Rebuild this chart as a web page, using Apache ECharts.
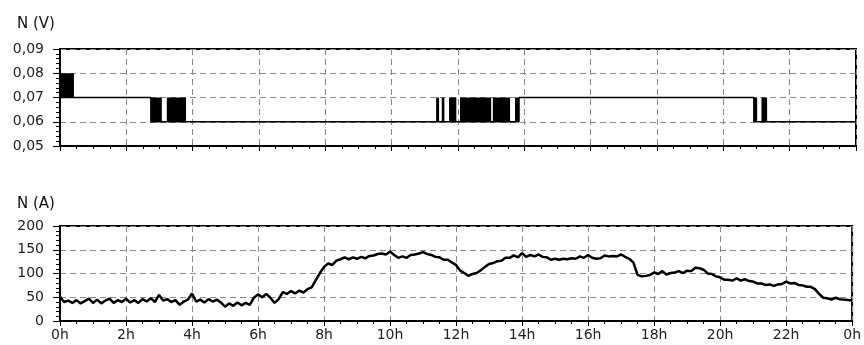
<!DOCTYPE html>
<html>
<head>
<meta charset="utf-8">
<title>N (V) / N (A)</title>
<script src="https://cdn.jsdelivr.net/npm/echarts@6/dist/echarts.min.js"></script>
<style>
  html, body { margin: 0; padding: 0; background: #fff; }
  #chart { width: 864px; height: 345px; }
</style>
</head>
<body>
<div id="chart"></div>
<script>
// Hour ticks shared by both panels (24h wraps to "0h")
const hourTicks = [0, 2, 4, 6, 8, 10, 12, 14, 16, 18, 20, 22, 24];

// Voltage level: held value, [hour, value] change points
const voltageSteps = [
  [0, 0.07], [2.74, 0.06], [13.84, 0.07], [20.92, 0.06], [24, 0.06]
];

// Intervals where the voltage flickers between two levels: [startHour, endHour, low, high]
const voltageFlicker = [
  [0.00, 0.42, 0.07, 0.08],
  [2.74, 3.07, 0.06, 0.07],
  [3.22, 3.80, 0.06, 0.07],
  [11.34, 11.43, 0.06, 0.07],
  [11.51, 11.59, 0.06, 0.07],
  [11.73, 11.95, 0.06, 0.07],
  [12.06, 13.00, 0.06, 0.07],
  [13.05, 13.57, 0.06, 0.07],
  [13.72, 13.84, 0.06, 0.07],
  [20.92, 21.02, 0.06, 0.07],
  [21.15, 21.32, 0.06, 0.07]
];

// Current, one reading every 7.5 minutes (8 per hour), from 0h to 24h
const currentStepHours = 0.125;
const currentValues = [
  51, 40, 43, 38, 44, 37, 42, 47,
  38, 45, 37, 43, 47, 38, 44, 40,
  47, 39, 44, 38, 46, 41, 48, 40,
  55, 43, 46, 40, 44, 34, 41, 45,
  58, 41, 45, 39, 46, 41, 45, 39,
  30, 37, 32, 39, 33, 38, 34, 49,
  56, 50, 57, 49, 38, 46, 61, 57,
  63, 58, 64, 60, 67, 71, 86, 101,
  114, 121, 118, 127, 130, 134, 130, 134,
  131, 135, 132, 137, 138, 141, 142, 140,
  146, 139, 133, 136, 133, 139, 140, 142,
  145, 141, 139, 135, 134, 129, 129, 123,
  118, 106, 101, 95, 99, 101, 107, 114,
  120, 122, 126, 127, 133, 133, 138, 134,
  143, 135, 139, 136, 140, 135, 134, 129,
  131, 129, 131, 130, 132, 131, 136, 133,
  139, 133, 131, 132, 138, 136, 137, 136,
  140, 135, 131, 123, 97, 94, 95, 97,
  102, 99, 105, 98, 101, 102, 105, 101,
  106, 105, 112, 111, 108, 100, 99, 94,
  92, 87, 87, 85, 90, 85, 88, 84,
  83, 79, 79, 76, 77, 74, 77, 78,
  83, 79, 80, 76, 75, 72, 72, 67,
  57, 49, 48, 45, 49, 46, 45, 44,
  43
];

// Axis ranges
const voltageTicks = [0.05, 0.06, 0.07, 0.08, 0.09];
const currentTicks = [0, 50, 100, 150, 200];

const currentData = currentValues.map((v, i) => [i * currentStepHours, v]);

const labelFont = { fontFamily: 'DejaVu Sans', fontSize: 14, color: '#222' };
const titleFont = { fontFamily: 'DejaVu Sans', fontSize: 15, fontWeight: 'normal', color: '#111' };
const gridLine = { show: true, lineStyle: { color: '#8a8a8a', type: [6, 4], width: 1 } };

function xAxisFor(gridIndex, showLabels) {
  return {
    type: 'value', gridIndex,
    min: hourTicks[0], max: hourTicks[hourTicks.length - 1],
    interval: hourTicks[1] - hourTicks[0],
    axisLine: { show: true, onZero: false, lineStyle: { color: '#000', width: 2 } },
    axisTick: { show: true, length: 5, lineStyle: { color: '#000', width: 1 } },
    minorTick: { show: true, splitNumber: 4, length: 3, lineStyle: { color: '#000', width: 1 } },
    axisLabel: Object.assign({ show: showLabels, margin: 7, formatter: v => (v % 24) + 'h' }, labelFont),
    splitLine: gridLine
  };
}

function yAxisFor(gridIndex, ticks, fmt) {
  return {
    type: 'value', gridIndex,
    min: ticks[0], max: ticks[ticks.length - 1],
    interval: ticks[1] - ticks[0],
    axisLine: { show: true, onZero: false, lineStyle: { color: '#000', width: 2 } },
    axisTick: { show: true, length: 7, lineStyle: { color: '#000', width: 1 } },
    minorTick: { show: true, splitNumber: 5, length: 4, lineStyle: { color: '#000', width: 1 } },
    axisLabel: Object.assign({ margin: 16, formatter: fmt }, labelFont),
    splitLine: gridLine
  };
}

const chart = echarts.init(document.getElementById('chart'), null, { renderer: 'canvas' });

chart.setOption({
  animation: false,
  backgroundColor: '#fff',
  title: [
    { text: 'N (V)', left: 12, top: 12, textStyle: titleFont },
    { text: 'N (A)', left: 12, top: 192, textStyle: titleFont }
  ],
  grid: [
    { left: 60, right: 8, top: 49, height: 97, show: true, borderColor: '#000', borderWidth: 2, backgroundColor: 'transparent' },
    { left: 60, right: 8, top: 226, height: 95, show: true, borderColor: '#000', borderWidth: 2, backgroundColor: 'transparent' }
  ],
  xAxis: [xAxisFor(0, false), xAxisFor(1, true)],
  yAxis: [
    yAxisFor(0, voltageTicks, v => v.toFixed(2).replace('.', ',')),
    yAxisFor(1, currentTicks, v => String(Math.round(v)))
  ],
  series: [
    {
      type: 'custom', xAxisIndex: 0, yAxisIndex: 0,
      data: voltageFlicker,
      renderItem: function (params, api) {
        const p0 = api.coord([api.value(0), api.value(3)]);
        const p1 = api.coord([api.value(1), api.value(2)]);
        return {
          type: 'rect',
          shape: { x: p0[0], y: p0[1], width: p1[0] - p0[0], height: p1[1] - p0[1] },
          style: { fill: '#000' }
        };
      },
      z: 3
    },
    {
      type: 'line', xAxisIndex: 0, yAxisIndex: 0,
      data: voltageSteps, step: 'end', symbol: 'none',
      lineStyle: { color: '#000', width: 1.5 }, z: 4
    },
    {
      type: 'line', xAxisIndex: 1, yAxisIndex: 1,
      data: currentData, symbol: 'none',
      lineStyle: { color: '#000', width: 2.5 }, z: 4
    }
  ]
});
</script>
</body>
</html>
